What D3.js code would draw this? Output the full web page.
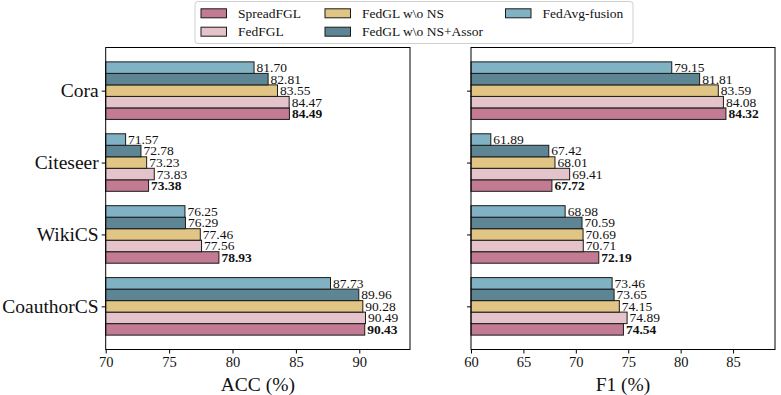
<!DOCTYPE html>
<html>
<head>
<meta charset="utf-8">
<title>acc f1 bars</title>
<script src="https://cdn.jsdelivr.net/npm/d3@7"></script>
<style>
body{margin:0;background:#fff;}
svg{font-family:"Liberation Serif","Times New Roman",serif;}
</style>
</head>
<body>
<svg id="chart" width="781" height="395"></svg>
<script>
// data
var datasets = ["Cora", "Citeseer", "WikiCS", "CoauthorCS"];
var methods = ["SpreadFGL", "FedFGL", "FedGL w\\o NS", "FedGL w\\o NS+Assor", "FedAvg-fusion"];
var colors = ["#c27b93", "#e4c3cb", "#e1c585", "#5e8594", "#80b2c3"];

// one row per dataset, columns follow methods
var accVals = [
  [84.49, 84.47, 83.55, 82.81, 81.70],
  [73.38, 73.83, 73.23, 72.78, 71.57],
  [78.93, 77.56, 77.46, 76.29, 76.25],
  [90.43, 90.49, 90.28, 89.96, 87.73]
];
var f1Vals = [
  [84.32, 84.08, 83.59, 81.81, 79.15],
  [67.72, 69.41, 68.01, 67.42, 61.89],
  [72.19, 70.71, 70.69, 70.59, 68.98],
  [74.54, 74.89, 74.15, 73.65, 73.46]
];
var accTicks = [70, 75, 80, 85, 90];
var f1Ticks = [60, 65, 70, 75, 80, 85];

var svg = d3.select("#chart");
var plotTop = 47.5, plotBottom = 349.5;
var y = d3.scaleLinear().domain([-0.6, 3.6]).range([plotTop, plotBottom]);
var barH = y(0.16) - y(0);

function panel(vals, x0, x1, dom, ticks, title, showLabels){
  var x = d3.scaleLinear().domain(dom).range([x0, x1]);
  var g = svg.append("g");

  var rows = [];
  vals.forEach(function(r, di){
    r.forEach(function(v, mi){
      rows.push({d: di, m: mi, v: v});
    });
  });
  // SpreadFGL at the bottom of each group, FedAvg-fusion on top
  function yc(r){ return y(r.d + (2 - r.m) * 0.16); }

  g.selectAll("rect.bar").data(rows).enter().append("rect")
    .attr("class", "bar")
    .attr("x", x(dom[0]))
    .attr("y", function(r){ return yc(r) - barH/2; })
    .attr("width", function(r){ return x(r.v) - x(dom[0]); })
    .attr("height", barH)
    .attr("fill", function(r){ return colors[r.m]; })
    .attr("stroke", "#1a1a1a").attr("stroke-width", 1);

  g.selectAll("text.val").data(rows).enter().append("text")
    .attr("class", "val")
    .attr("x", function(r){ return x(r.v) + 2.5; })
    .attr("y", function(r){ return yc(r); })
    .attr("dy", "0.33em")
    .attr("font-size", 13.5)
    .attr("font-weight", function(r){ return r.m == 0 ? "bold" : "normal"; })
    .attr("fill", "#111")
    .text(function(r){ return r.v.toFixed(2); });

  // frame
  g.append("rect").attr("x", x0).attr("y", plotTop).attr("width", x1 - x0).attr("height", plotBottom - plotTop)
    .attr("fill", "none").attr("stroke", "#000").attr("stroke-width", 1);

  var xa = d3.axisBottom(x).tickValues(ticks).tickSize(4).tickPadding(3).tickFormat(d3.format("d"));
  var ax = g.append("g").attr("transform", "translate(0," + plotBottom + ")").call(xa);
  ax.select(".domain").remove();
  ax.selectAll("text").attr("font-size", 14.5).attr("font-family", "Liberation Serif").attr("fill", "#111");

  var ya = d3.axisLeft(y).tickValues([0, 1, 2, 3]).tickSize(4).tickPadding(3)
    .tickFormat(function(i){ return showLabels ? datasets[i] : ""; });
  var ay = g.append("g").attr("transform", "translate(" + x0 + ",0)").call(ya);
  ay.select(".domain").remove();
  ay.selectAll("text").attr("font-size", 19.5).attr("font-family", "Liberation Serif").attr("fill", "#111");

  g.append("text").attr("x", (x0 + x1) / 2).attr("y", 391)
    .attr("text-anchor", "middle").attr("font-size", 19.5).attr("fill", "#111")
    .text(title);
}

panel(accVals, 105.7, 410, [70, 94], accTicks, "ACC (%)", true);
panel(f1Vals, 471, 775, [60, 89], f1Ticks, "F1 (%)", false);

// legend, filled column by column like matplotlib ncol=3
var leg = svg.append("g");
leg.append("rect").attr("x", 195).attr("y", 1.5).attr("width", 438).attr("height", 42)
  .attr("rx", 3).attr("fill", "#fff").attr("fill-opacity", 0.8)
  .attr("stroke", "#cfcfcf").attr("stroke-width", 1);
var colX = [201, 325, 505.5];
var rowY = [13.3, 31.7];
methods.forEach(function(m, i){
  var cx = colX[Math.floor(i / 2)], cy = rowY[i % 2];
  leg.append("rect").attr("x", cx).attr("y", cy - 4.5).attr("width", 25.5).attr("height", 9)
    .attr("fill", colors[i]).attr("stroke", "#1a1a1a").attr("stroke-width", 1);
  leg.append("text").attr("x", cx + 37).attr("y", cy).attr("dy", "0.33em")
    .attr("font-size", 13.5).attr("fill", "#111").text(m);
});
</script>
</body>
</html>
